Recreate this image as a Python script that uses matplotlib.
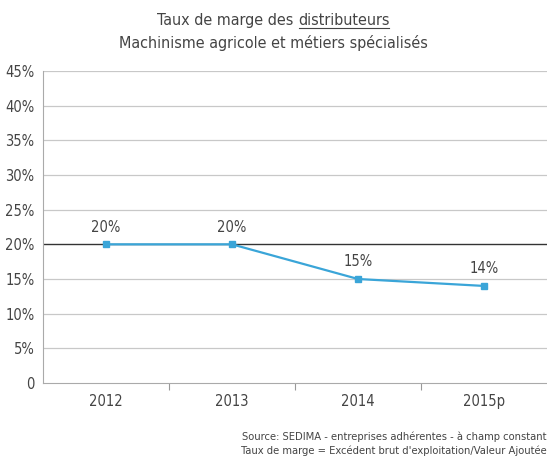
import matplotlib
matplotlib.use("Agg")
import matplotlib.pyplot as plt

categories = ["2012", "2013", "2014", "2015p"]
values = [20, 20, 15, 14]
labels = ["20%", "20%", "15%", "14%"]
yticks = [0, 5, 10, 15, 20, 25, 30, 35, 40, 45]
ytick_labels = ["0", "5%", "10%", "15%", "20%", "25%", "30%", "35%", "40%", "45%"]

plt.rcParams['font.family'] = ['DejaVu Sans']
plt.rcParams['font.stretch'] = 'condensed'

txt = "#444444"
fig = plt.figure(figsize=(5.47, 4.57), dpi=100)
ax = fig.add_axes([43/547, 1-383/457, 1-43/547, (383-71)/457])

x = [i + 0.5 for i in range(len(categories))]
ax.set_xlim(0, len(categories))
ax.set_ylim(0, 45)
for y in yticks[1:]:
    ax.axhline(y, color="#333333" if y == 20 else "#c8c8c8", lw=1.0 if y == 20 else 0.9, zorder=1)
ax.plot(x, values, color="#3aa5d8", lw=1.6, marker="s", ms=4.5, zorder=3)
for xi, v, l in zip(x, values, labels):
    ax.annotate(l, (xi, v), xytext=(0, 7), textcoords="offset points", ha="center",
                va="bottom", fontsize=10.5, color=txt)

ax.set_yticks(yticks)
ax.set_yticklabels(ytick_labels, fontsize=10.5, color=txt)
ax.set_xticks([1, 2, 3])
ax.set_xticklabels([])
ax.set_xticks(x, minor=True)
ax.set_xticklabels(categories, minor=True, fontsize=10.5, color=txt)
ax.tick_params(axis="x", which="major", length=5, color="#999999", direction="out")
ax.tick_params(axis="x", which="minor", length=0, pad=8)
ax.tick_params(axis="y", length=0, pad=6)
for s in ["top", "right"]:
    ax.spines[s].set_visible(False)
ax.spines["left"].set_color("#aaaaaa")
ax.spines["bottom"].set_color("#aaaaaa")

# Title line 1 with underlined word
fig.canvas.draw()
r = fig.canvas.get_renderer()
t1 = fig.text(0, 0, "Taux de marge des", fontsize=11.5, color=txt, va="baseline")
t2 = fig.text(0, 0, "distributeurs", fontsize=11.5, color=txt, va="baseline")
ts = fig.text(0, 0, "a a", fontsize=11.5)
ta = fig.text(0, 0, "aa", fontsize=11.5)
sp = ts.get_window_extent(r).width - ta.get_window_extent(r).width
ts.remove(); ta.remove()
w1 = t1.get_window_extent(r).width + sp
w2 = t2.get_window_extent(r).width
W = fig.bbox.width
start = (W - (w1 + w2)) / 2
ytit = 1 - 25/457
t1.set_position((start / W, ytit))
t2.set_position(((start + w1) / W, ytit))
yline = 1 - 28/457
fig.add_artist(plt.Line2D([(start + w1 + 1) / W, (start + w1 + w2 - 1) / W], [yline, yline],
                          color=txt, lw=0.8, transform=fig.transFigure))

fig.text(0.5, 1-43/457, "Machinisme agricole et métiers spécialisés", ha="center", va="center", fontsize=11.5, color=txt)
fig.text(1.0, 1-437/457, "Source: SEDIMA - entreprises adhérentes - à champ constant", ha="right", va="center", fontsize=8, color=txt)
fig.text(1.0, 1-451/457, "Taux de marge = Excédent brut d'exploitation/Valeur Ajoutée", ha="right", va="center", fontsize=8, color=txt)

fig.savefig("out.png", dpi=100)
